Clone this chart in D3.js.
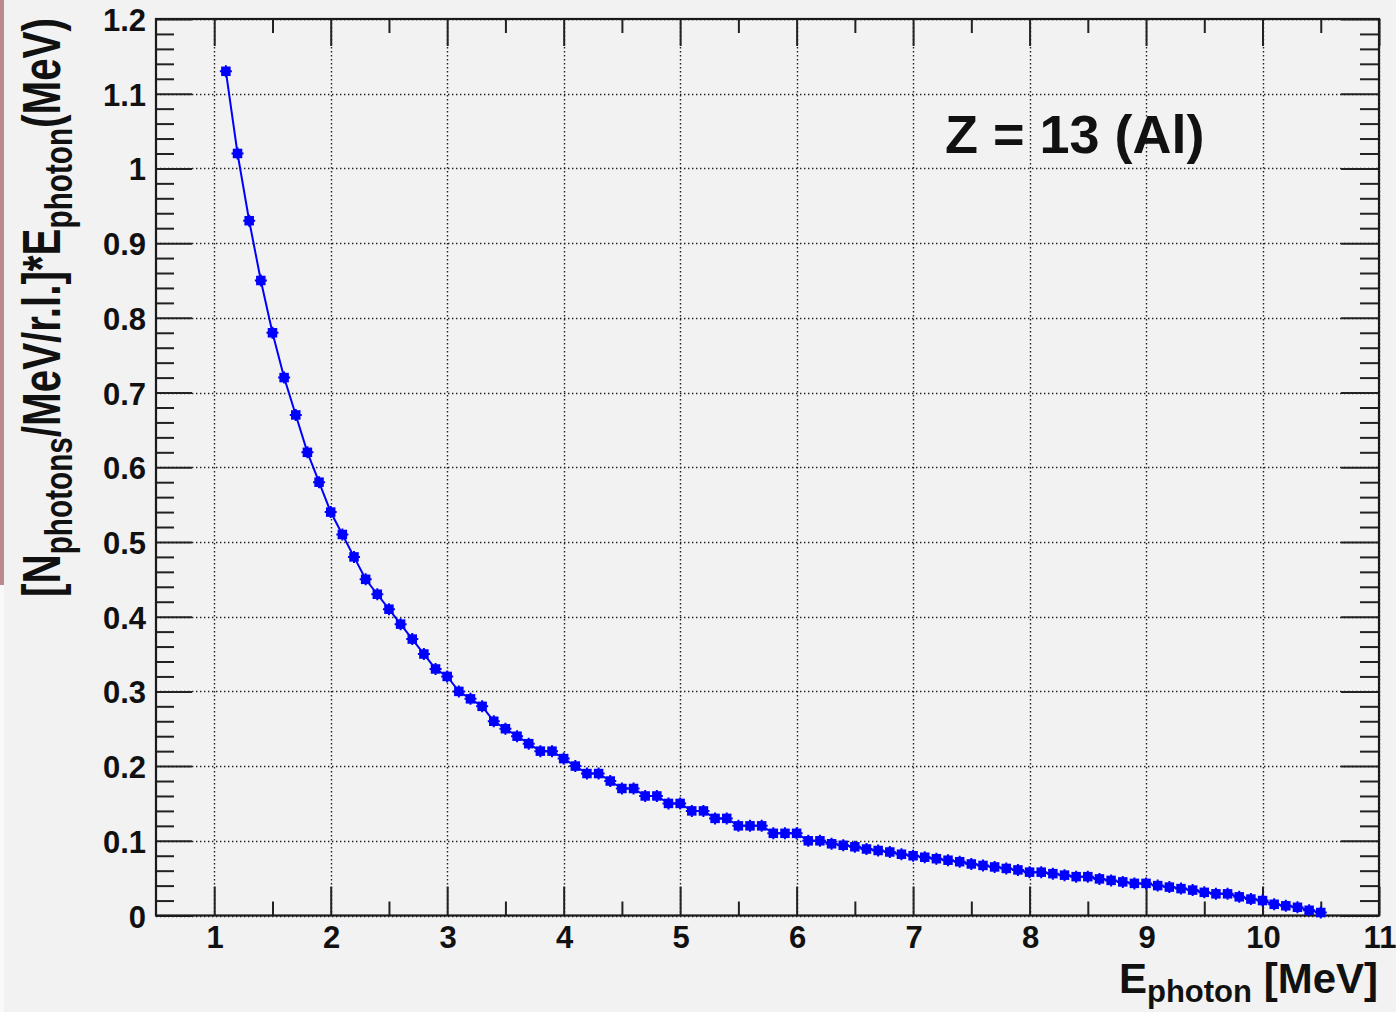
<!DOCTYPE html>
<html><head><meta charset="utf-8">
<script src="https://cdn.jsdelivr.net/npm/d3@7"></script>
<style>html,body{margin:0;padding:0;background:#f2f2f2;} svg{display:block}</style>
</head><body>
<svg id="c" width="1396" height="1012"></svg>
<script>
// ---- data ----
const energies = [1.1,1.2,1.3,1.4,1.5,1.6,1.7,1.8,1.9,2.0,
  2.1,2.2,2.3,2.4,2.5,2.6,2.7,2.8,2.9,3.0,
  3.1,3.2,3.3,3.4,3.5,3.6,3.7,3.8,3.9,4.0,
  4.1,4.2,4.3,4.4,4.5,4.6,4.7,4.8,4.9,5.0,
  5.1,5.2,5.3,5.4,5.5,5.6,5.7,5.8,5.9,6.0,
  6.1,6.2,6.3,6.4,6.5,6.6,6.7,6.8,6.9,7.0,
  7.1,7.2,7.3,7.4,7.5,7.6,7.7,7.8,7.9,8.0,
  8.1,8.2,8.3,8.4,8.5,8.6,8.7,8.8,8.9,9.0,
  9.1,9.2,9.3,9.4,9.5,9.6,9.7,9.8,9.9,10.0,
  10.1,10.2,10.3,10.4,10.5];
const yields = [1.13,1.02,0.93,0.85,0.78,0.72,0.67,0.62,0.58,0.54,
  0.51,0.48,0.45,0.43,0.41,0.39,0.37,0.35,0.33,0.32,
  0.30,0.29,0.28,0.26,0.25,0.24,0.23,0.22,0.22,0.21,
  0.20,0.19,0.19,0.18,0.17,0.17,0.16,0.16,0.15,0.15,
  0.14,0.14,0.13,0.13,0.12,0.12,0.12,0.11,0.11,0.11,
  0.100,0.100,0.096,0.094,0.092,0.089,0.087,0.085,0.082,0.080,
  0.078,0.076,0.074,0.072,0.069,0.067,0.065,0.063,0.061,0.058,
  0.058,0.056,0.054,0.052,0.052,0.049,0.047,0.045,0.043,0.043,
  0.040,0.038,0.036,0.034,0.031,0.029,0.029,0.025,0.022,0.020,
  0.015,0.013,0.011,0.007,0.004];
const xMajorTicks = [1,2,3,4,5,6,7,8,9,10,11];
const xTickLabels = ["1","2","3","4","5","6","7","8","9","10","11"];
const yMajorTicks = [0,0.1,0.2,0.3,0.4,0.5,0.6,0.7,0.8,0.9,1.0,1.1,1.2];
const yTickLabels = ["0","0.1","0.2","0.3","0.4","0.5","0.6","0.7","0.8","0.9","1","1.1","1.2"];
const xDomain = [0.5, 11];
const yDomain = [0, 1.2];
const annotation = "Z = 13 (Al)";

// ---- drawing ----
const svg = d3.select("#c");
const m = {left:156, right:1379, top:19, bottom:915.5};
const x = d3.scaleLinear().domain(xDomain).range([m.left, m.right]);
const y = d3.scaleLinear().domain(yDomain).range([m.bottom, m.top]);
const FONT = "'Liberation Sans', Arial, Helvetica, sans-serif";

svg.append("rect").attr("width",1396).attr("height",1012).attr("fill","#f2f2f2");
// thin strip at the left border of the screenshot
svg.append("rect").attr("x",0).attr("y",0).attr("width",4).attr("height",585).attr("fill","#b98a8a");
svg.append("rect").attr("x",0).attr("y",585).attr("width",4).attr("height",427).attr("fill","#f9f9f9");

// grid
const grid = svg.append("g").attr("stroke","#1e1e1e").attr("stroke-width",1.4).attr("stroke-dasharray","1.4,2.6");
grid.selectAll("line.gx").data(xMajorTicks).join("line")
  .attr("x1",d=>Math.round(x(d))+0.5).attr("x2",d=>Math.round(x(d))+0.5)
  .attr("y1",m.top).attr("y2",m.bottom);
grid.selectAll("line.gy").data(yMajorTicks).join("line")
  .attr("y1",d=>Math.round(y(d))+0.5).attr("y2",d=>Math.round(y(d))+0.5)
  .attr("x1",m.left).attr("x2",m.right);

// ticks with d3 axes
const xMinor = d3.range(1.5, 11, 1);
const yMinor = d3.range(0.02, 1.2, 0.02).filter(v => Math.abs(v*10 - Math.round(v*10)) > 1e-6);
function styleAxis(g){ g.select(".domain").remove(); g.selectAll("line").attr("stroke","#222").attr("stroke-width",2); g.selectAll("text").remove(); }
svg.append("g").attr("transform",`translate(0,${m.bottom})`).call(d3.axisBottom(x).tickValues(xMajorTicks).tickSize(-29)).call(styleAxis);
svg.append("g").attr("transform",`translate(0,${m.bottom})`).call(d3.axisBottom(x).tickValues(xMinor).tickSize(-14)).call(styleAxis);
svg.append("g").attr("transform",`translate(0,${m.top})`).call(d3.axisTop(x).tickValues(xMajorTicks).tickSize(-27)).call(styleAxis);
svg.append("g").attr("transform",`translate(0,${m.top})`).call(d3.axisTop(x).tickValues(xMinor).tickSize(-14)).call(styleAxis);
svg.append("g").attr("transform",`translate(${m.left},0)`).call(d3.axisLeft(y).tickValues(yMajorTicks).tickSize(-36)).call(styleAxis);
svg.append("g").attr("transform",`translate(${m.left},0)`).call(d3.axisLeft(y).tickValues(yMinor).tickSize(-18)).call(styleAxis);
svg.append("g").attr("transform",`translate(${m.right},0)`).call(d3.axisRight(y).tickValues(yMajorTicks).tickSize(-38)).call(styleAxis);
svg.append("g").attr("transform",`translate(${m.right},0)`).call(d3.axisRight(y).tickValues(yMinor).tickSize(-19)).call(styleAxis);

// frame
svg.append("rect").attr("x",m.left).attr("y",m.top).attr("width",m.right-m.left).attr("height",m.bottom-m.top)
  .attr("fill","none").attr("stroke","#1a1a1a").attr("stroke-width",2.2);

// tick labels
svg.append("g").selectAll("text").data(xMajorTicks).join("text")
  .attr("x",d=>x(d)+1).attr("y",948).attr("text-anchor","middle")
  .attr("font-family",FONT).attr("font-weight","bold").attr("font-size",31).attr("fill","#111")
  .text((d,i)=>xTickLabels[i]);
svg.append("g").selectAll("text").data(yMajorTicks).join("text")
  .attr("x",146).attr("y",d=>y(d)+12).attr("text-anchor","end")
  .attr("font-family",FONT).attr("font-weight","bold").attr("font-size",31).attr("fill","#111")
  .text((d,i)=>yTickLabels[i]);

// data line and markers
const pts = energies.map((e,i)=>({e, v:yields[i]}));
svg.append("path").datum(pts)
  .attr("d", d3.line().x(d=>x(d.e)).y(d=>y(d.v)))
  .attr("fill","none").attr("stroke","#0000ff").attr("stroke-width",2);
const mk = svg.append("g").selectAll("g").data(pts).join("g")
  .attr("transform",d=>`translate(${x(d.e)},${y(d.v)})`);
mk.append("rect").attr("x",-4.75).attr("y",-4.75).attr("width",9.5).attr("height",9.5).attr("fill","#0000ff");
mk.append("path").attr("d","M-6,0H6M0,-6V6").attr("stroke","#0000ff").attr("stroke-width",2);

// annotation
svg.append("text").attr("x",945).attr("y",153).attr("font-family",FONT).attr("font-weight","bold")
  .attr("font-size",54).attr("fill","#111").text(annotation);

// x axis title
const xt = svg.append("text").attr("x",1378).attr("y",993).attr("text-anchor","end")
  .attr("font-family",FONT).attr("font-weight","bold").attr("font-size",42).attr("fill","#111");
xt.append("tspan").text("E");
xt.append("tspan").attr("font-size",31).attr("dy",9).text("photon");
xt.append("tspan").attr("dy",-9).text(" [MeV]");

// y axis title (rotated, compressed along its length like the original)
const yt = svg.append("text").attr("text-anchor","end")
  .attr("font-family",FONT).attr("font-weight","bold").attr("font-size",53).attr("fill","#111");
yt.append("tspan").text("[N");
yt.append("tspan").attr("font-size",39).attr("dy",12).text("photons");
yt.append("tspan").attr("dy",-12).text("/MeV/r.l.]*E");
yt.append("tspan").attr("font-size",39).attr("dy",12).text("photon");
yt.append("tspan").attr("dy",-12).text("(MeV)");
const L = yt.node().getComputedTextLength();
const sx = (597 - 18) / L;
yt.attr("transform",`translate(60,18) rotate(-90) scale(${sx},1)`);
</script>
</body></html>
